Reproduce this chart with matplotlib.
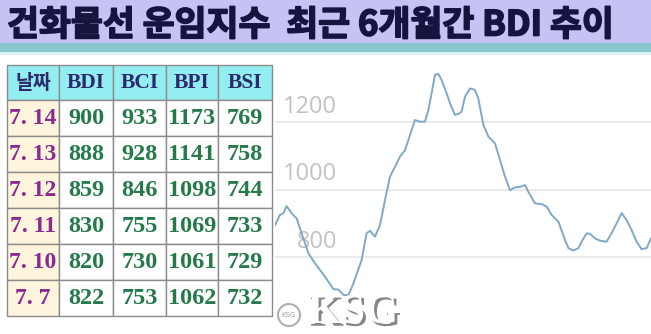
import matplotlib.pyplot as plt
from matplotlib.patches import Rectangle, Circle
import matplotlib.patheffects as pe

# 최근 6개월 BDI 추이
days = [0, 2.5, 4.2, 5.8, 8.3, 10.8, 13.3, 16.7, 20, 25, 29.2, 31.7, 34.2, 36.7, 39.2,
        43.3, 45.8, 47.5, 50, 52.5, 55, 57.5, 60, 62.5, 65, 67.5, 70, 72.5, 75, 76.7,
        78.3, 80, 81.7, 83.3, 85.8, 87.5, 90, 91.7, 93.3, 95, 97.5, 100, 101.7, 104.2,
        106.7, 110, 112.5, 115, 117.5, 120, 122.5, 125, 126.7, 130, 133.3, 135.8, 138.3,
        141.7, 145, 146.7, 149.2, 151.7, 153.3, 155.8, 157.5, 160, 162.5, 165.8, 168.3,
        170.8, 173.3, 175.8, 178.3, 180.8, 183.3, 185.8, 188]
bdi = [895, 925, 930, 951, 930, 915, 871, 812, 782, 743, 706, 705, 689, 688, 723,
       792, 871, 878, 861, 895, 969, 1038, 1067, 1097, 1116, 1161, 1205, 1200, 1200, 1235,
       1284, 1338, 1341, 1323, 1284, 1254, 1220, 1223, 1230, 1274, 1298, 1294, 1267, 1190,
       1156, 1136, 1087, 1038, 998, 1006, 1008, 1013, 993, 959, 957, 950, 925,
       905, 851, 827, 820, 827, 846, 871, 869, 856, 849, 846, 871,
       900, 930, 910, 880, 846, 824, 827, 856]
y_ticks = [800, 1000, 1200]

# 표 데이터
col_names = ["날짜", "BDI", "BCI", "BPI", "BSI"]
dates = ["7. 14", "7. 13", "7. 12", "7. 11", "7. 10", "7. 7"]
bdi_tab = [900, 888, 859, 830, 820, 822]
bci_tab = [933, 928, 846, 755, 730, 753]
bpi_tab = [1173, 1141, 1098, 1069, 1061, 1062]
bsi_tab = [769, 758, 744, 733, 729, 732]

title = "건화물선 운임지수  최근 6개월간 BDI 추이"

W, H = 651, 334
fig = plt.figure(figsize=(W / 100, H / 100), dpi=100)
fig.patch.set_facecolor("white")

# 라인 차트
top_px = 56
ax = fig.add_axes([275 / W, 0, 376 / W, (H - top_px) / H])
px_per_unit = 67.8 / 200
ax.set_ylim(800 - (H - 257.3) / px_per_unit, 800 + (257.3 - top_px) / px_per_unit)
ax.set_xlim(0, 188)
ax.axis("off")
for t in y_ticks:
    ax.axhline(t, color="#e6e6e6", lw=1.2, zorder=1)
    ax.text(0.165, t + 15 / px_per_unit, str(t), transform=ax.get_yaxis_transform(),
            ha="right", va="center", fontsize=17, color="#c2c2c2", family="Open Sans")
ax.plot(days, bdi, color="#7fa9c6", lw=1.4, zorder=3)

# 배경 레이어 (배너, 표, 워터마크)
ov = fig.add_axes([0, 0, 1, 1], facecolor="none")
ov.set_xlim(0, W)
ov.set_ylim(H, 0)
ov.axis("off")

ov.add_patch(Rectangle((0, 0), W, 43, color="#c6c2f3", lw=0))
ov.add_patch(Rectangle((0, 43), W, 9, color="#88c7cf", lw=0))
ov.add_patch(Rectangle((0, 52), W, 3, color="#d9f1f4", lw=0))
ov.text(7, 25, title, ha="left", va="center", fontsize=25, fontweight="bold",
        color="#16143f", family=["Noto Sans CJK KR", "DejaVu Sans"],
        path_effects=[pe.withStroke(linewidth=1.2, foreground="#16143f")])

xs = [7, 59, 113, 166, 218, 272]
ys = [65, 100, 136, 172, 208, 244, 280, 316]
values = [bdi_tab, bci_tab, bpi_tab, bsi_tab]

for j in range(5):
    ov.add_patch(Rectangle((xs[j], ys[0]), xs[j + 1] - xs[j], ys[1] - ys[0],
                           facecolor="#93eef2", edgecolor="#8c8c8c", lw=1))
    fam = ["Noto Sans CJK KR", "DejaVu Sans"] if j == 0 else "Liberation Serif"
    ov.text((xs[j] + xs[j + 1]) / 2, (ys[0] + ys[1]) / 2 + 1, col_names[j],
            ha="center", va="center", fontsize=14 if j == 0 else 15.5, fontweight="bold",
            color="#2c2a6c", family=fam)

for i in range(len(dates)):
    y0, y1 = ys[i + 1], ys[i + 2]
    ov.add_patch(Rectangle((xs[0], y0), xs[1] - xs[0], y1 - y0,
                           facecolor="#fff5dd", edgecolor="#8c8c8c", lw=1))
    ov.text((xs[0] + xs[1]) / 2, (y0 + y1) / 2 + 1, dates[i], ha="center", va="center",
            fontsize=17, fontweight="bold", color="#8a2a8e", family="Liberation Serif")
    for j in range(4):
        ov.add_patch(Rectangle((xs[j + 1], y0), xs[j + 2] - xs[j + 1], y1 - y0,
                               facecolor="white", edgecolor="#8c8c8c", lw=1))
        ov.text((xs[j + 1] + xs[j + 2]) / 2, (y0 + y1) / 2 + 1, str(values[j][i]),
                ha="center", va="center", fontsize=17.5, fontweight="bold",
                color="#247a48", family="Liberation Serif")

# KSG 워터마크
shadow = [pe.withSimplePatchShadow(offset=(2, -2), shadow_rgbFace="#7a7a7a", alpha=0.9)]
ov.add_patch(Circle((289, 315), 11, facecolor="white", edgecolor="#b0b0b0", lw=1.5))
ov.text(289, 315, "KSG", ha="center", va="center", fontsize=5, color="#a0a0a0",
        family="DejaVu Sans")
ov.text(353, 313, "KSG", ha="center", va="center", fontsize=31, fontweight="bold",
        color="white", family="Liberation Serif", path_effects=shadow)

fig.savefig("out.png", dpi=100)
